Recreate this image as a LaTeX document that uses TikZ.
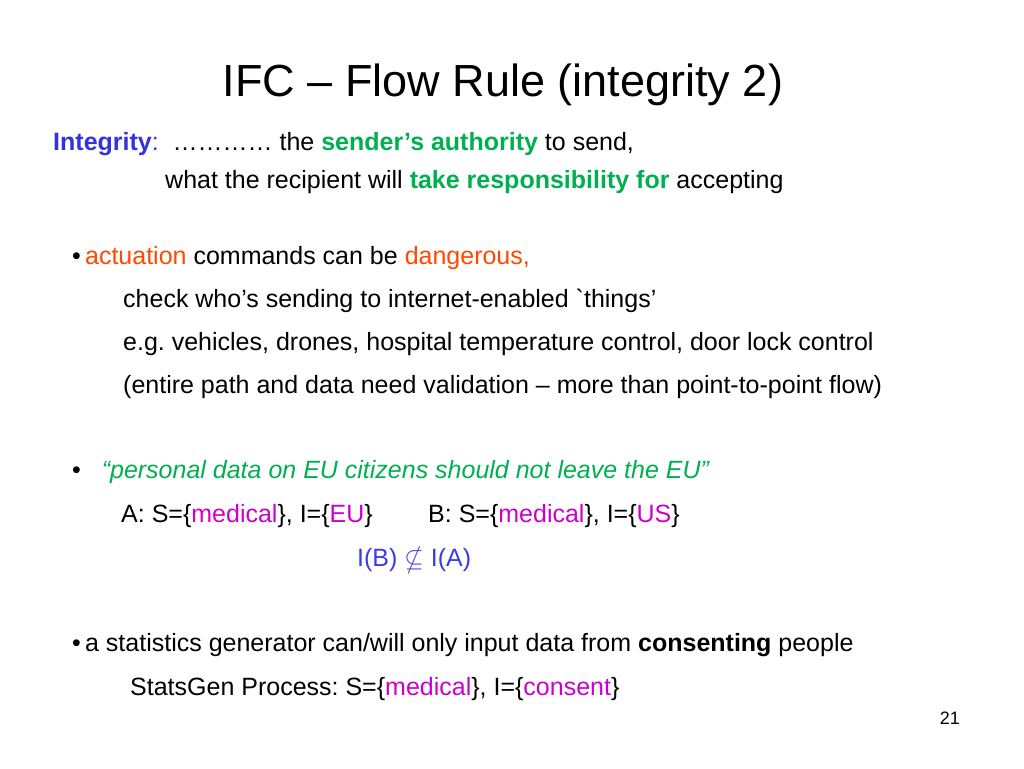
\documentclass[tikz,border=0pt]{standalone}
\usepackage{fontspec}
\usepackage{amssymb}
\setmainfont{Liberation Sans}
\definecolor{iblue}{RGB}{51,51,221}
\definecolor{igreen}{RGB}{0,176,80}
\definecolor{iorange}{RGB}{255,72,0}
\definecolor{imag}{RGB}{204,0,204}
\definecolor{ibl}{RGB}{60,60,230}
\tikzset{t/.style={anchor=base west,inner sep=0pt,font=\fontsize{25}{30}\selectfont},
 s/.style={anchor=base west,inner sep=0pt,font=\fontsize{25}{30}\selectfont}}
\begin{document}
\frenchspacing
\begin{tikzpicture}[x=1pt,y=-1pt]
\useasboundingbox (0,0) rectangle (1024,768);
\node[anchor=base,inner sep=0pt,font=\fontsize{45}{52}\selectfont] (title) at (503,96) {IFC -- Flow Rule (integrity 2)};
\node[s] (i1) at (53,150) {\textcolor{iblue}{\textbf{Integrity}:}\ \ ………… the \textcolor{igreen}{\textbf{sender’s authority}} to send,};
\node[s] (i2) at (165,188) {what the recipient will \textcolor{igreen}{\textbf{take responsibility for}} accepting};
\node[t] (a1) at (72,264) {•\,\textcolor{iorange}{actuation} commands can be \textcolor{iorange}{dangerous,}};
\node[t] (a2) at (123,307) {check who’s sending to internet-enabled \textasciigrave things’};
\node[t] (a3) at (123,350) {e.g. vehicles, drones, hospital temperature control, door lock control};
\node[t] (a4) at (123,393) {(entire path and data need validation -- more than point-to-point flow)};
\node[t] (p1) at (72,478) {•\ \ \ \textcolor{igreen}{\textit{“personal data on EU citizens should not leave the EU”}}};
\node[t] (p2) at (121,522) {A: S=\{\textcolor{imag}{medical}\}, I=\{\textcolor{imag}{EU}\}};
\node[t] (p3) at (428,522) {B: S=\{\textcolor{imag}{medical}\}, I=\{\textcolor{imag}{US}\}};
\node[t,text=ibl] (p4) at (357,566) {I(B) $\nsubseteq$ I(A)};
\node[t] (s1) at (72,651) {•\,a statistics generator can/will only input data from \textbf{consenting} people};
\node[t] (s2) at (130,695) {StatsGen Process: S=\{\textcolor{imag}{medical}\}, I=\{\textcolor{imag}{consent}\}};
\node[anchor=base east,inner sep=0pt,font=\fontsize{18}{20}\selectfont] (num) at (960,724) {21};
\end{tikzpicture}
\end{document}
